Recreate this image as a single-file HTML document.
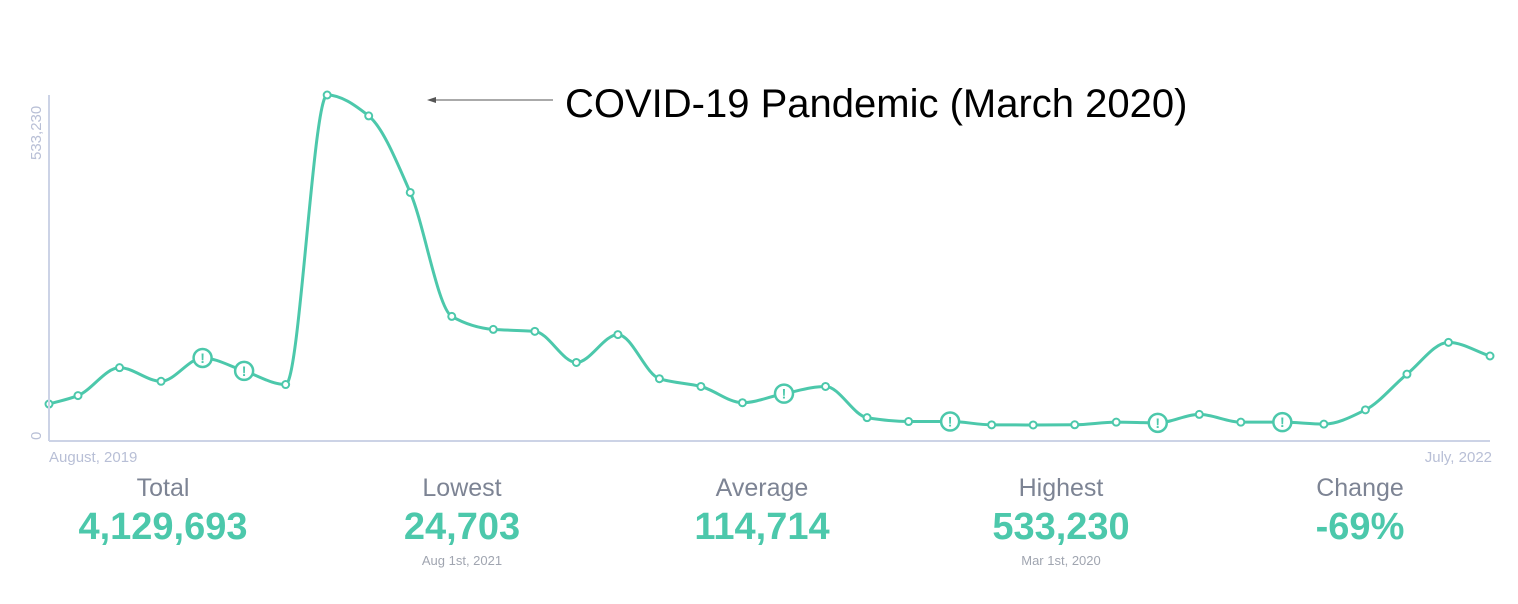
<!DOCTYPE html>
<html><head><meta charset="utf-8"><style>
body{margin:0;width:1518px;height:604px;background:#fff;overflow:hidden;font-family:"Liberation Sans",sans-serif}
svg{position:absolute;left:0;top:0}
.stat{position:absolute;width:260px;text-align:center}
.lbl{color:#7d8494;font-size:25px;height:30px}
.val{color:#4cc8ab;font-size:38px;font-weight:bold;margin-top:2px}
.sub{color:#a0a5b0;font-size:13px;margin-top:4px}
</style></head><body>
<svg width="1518" height="604">
<g id="g"></g>
<line x1="49" y1="95" x2="49" y2="441" stroke="#ccd3e6" stroke-width="2"/>
<line x1="49" y1="441" x2="1490" y2="441" stroke="#ccd3e6" stroke-width="2"/>
<text transform="translate(41,160) rotate(-90)" font-size="15" fill="#b8bfd6">533,230</text>
<text transform="translate(41,440) rotate(-90)" font-size="15" fill="#b8bfd6">0</text>
<text x="49" y="462" font-size="15" fill="#b8bfd6">August, 2019</text>
<text x="1492" y="462" font-size="15" fill="#b8bfd6" text-anchor="end">July, 2022</text>
<line x1="553" y1="100" x2="432" y2="100" stroke="#555" stroke-width="1"/>
<polygon points="427,100 436,97 436,103" fill="#555"/>
<text x="565" y="117" font-size="40" fill="#000">COVID-19 Pandemic (March 2020)</text>
</svg>
<div class="stat" style="left:33px;top:474px"><div class="lbl">Total</div><div class="val">4,129,693</div></div>
<div class="stat" style="left:332px;top:474px"><div class="lbl">Lowest</div><div class="val">24,703</div><div class="sub">Aug 1st, 2021</div></div>
<div class="stat" style="left:632px;top:474px"><div class="lbl">Average</div><div class="val">114,714</div></div>
<div class="stat" style="left:931px;top:474px"><div class="lbl">Highest</div><div class="val">533,230</div><div class="sub">Mar 1st, 2020</div></div>
<div class="stat" style="left:1230px;top:474px"><div class="lbl">Change</div><div class="val">-69%</div></div>
<script>
const values=[57000,70000,113000,92000,128000,108000,87000,533230,501000,383000,192000,172000,169000,121000,164000,96000,84000,59000,73000,84000,36000,30000,30000,24900,24703,25000,29000,28000,41000,29000,29000,26000,48000,103000,152000,131000];
const flags=[4,5,18,22,27,30];
const yMax=533230;
const x0=49,x1=1490,yb=441,yt=95;
function xs(i){return i===0?x0:78+(x1-78)*(i-1)/(values.length-2);}
function ys(v){return yb-(yb-yt)*v/yMax;}
const g=document.getElementById('g');
const NS='http://www.w3.org/2000/svg';
const P=values.map((v,i)=>[xs(i),ys(v)]);
const n=P.length;
const dl=[],ms=[];
for(let i=0;i<n-1;i++){dl.push((P[i+1][1]-P[i][1])/(P[i+1][0]-P[i][0]));}
for(let i=0;i<n;i++){
 if(i===0)ms.push(dl[0]);else if(i===n-1)ms.push(dl[n-2]);
 else if(dl[i-1]*dl[i]<=0)ms.push(0);
 else{const h0=P[i][0]-P[i-1][0],h1=P[i+1][0]-P[i][0];const w1=2*h1+h0,w2=h1+2*h0;ms.push((w1+w2)/(w1/dl[i-1]+w2/dl[i]));}
}
let d='M'+P[0][0]+','+P[0][1];
for(let i=0;i<n-1;i++){
 const h=P[i+1][0]-P[i][0];
 d+=` C${P[i][0]+h/3},${P[i][1]+ms[i]*h/3} ${P[i+1][0]-h/3},${P[i+1][1]-ms[i+1]*h/3} ${P[i+1][0]},${P[i+1][1]}`;
}
const path=document.createElementNS(NS,'path');
path.setAttribute('d',d);path.setAttribute('fill','none');path.setAttribute('stroke','#4cc8ab');path.setAttribute('stroke-width','3');


g.appendChild(path);
P.forEach((p,i)=>{
 const f=flags.includes(i);
 const c=document.createElementNS(NS,'circle');
 c.setAttribute('cx',p[0]);c.setAttribute('cy',p[1]);c.setAttribute('r',f?9:3.5);
 c.setAttribute('fill','#fff');c.setAttribute('stroke','#4cc8ab');c.setAttribute('stroke-width',f?2.5:2);
 
 
 g.appendChild(c);
 if(f){const t=document.createElementNS(NS,'text');
  t.setAttribute('x',p[0]);t.setAttribute('y',p[1]+5);t.setAttribute('text-anchor','middle');
  t.setAttribute('font-size','14');t.setAttribute('font-weight','bold');t.setAttribute('fill','#4cc8ab');
  
  
  t.textContent='!';g.appendChild(t);}
});
</script>
</body></html>
